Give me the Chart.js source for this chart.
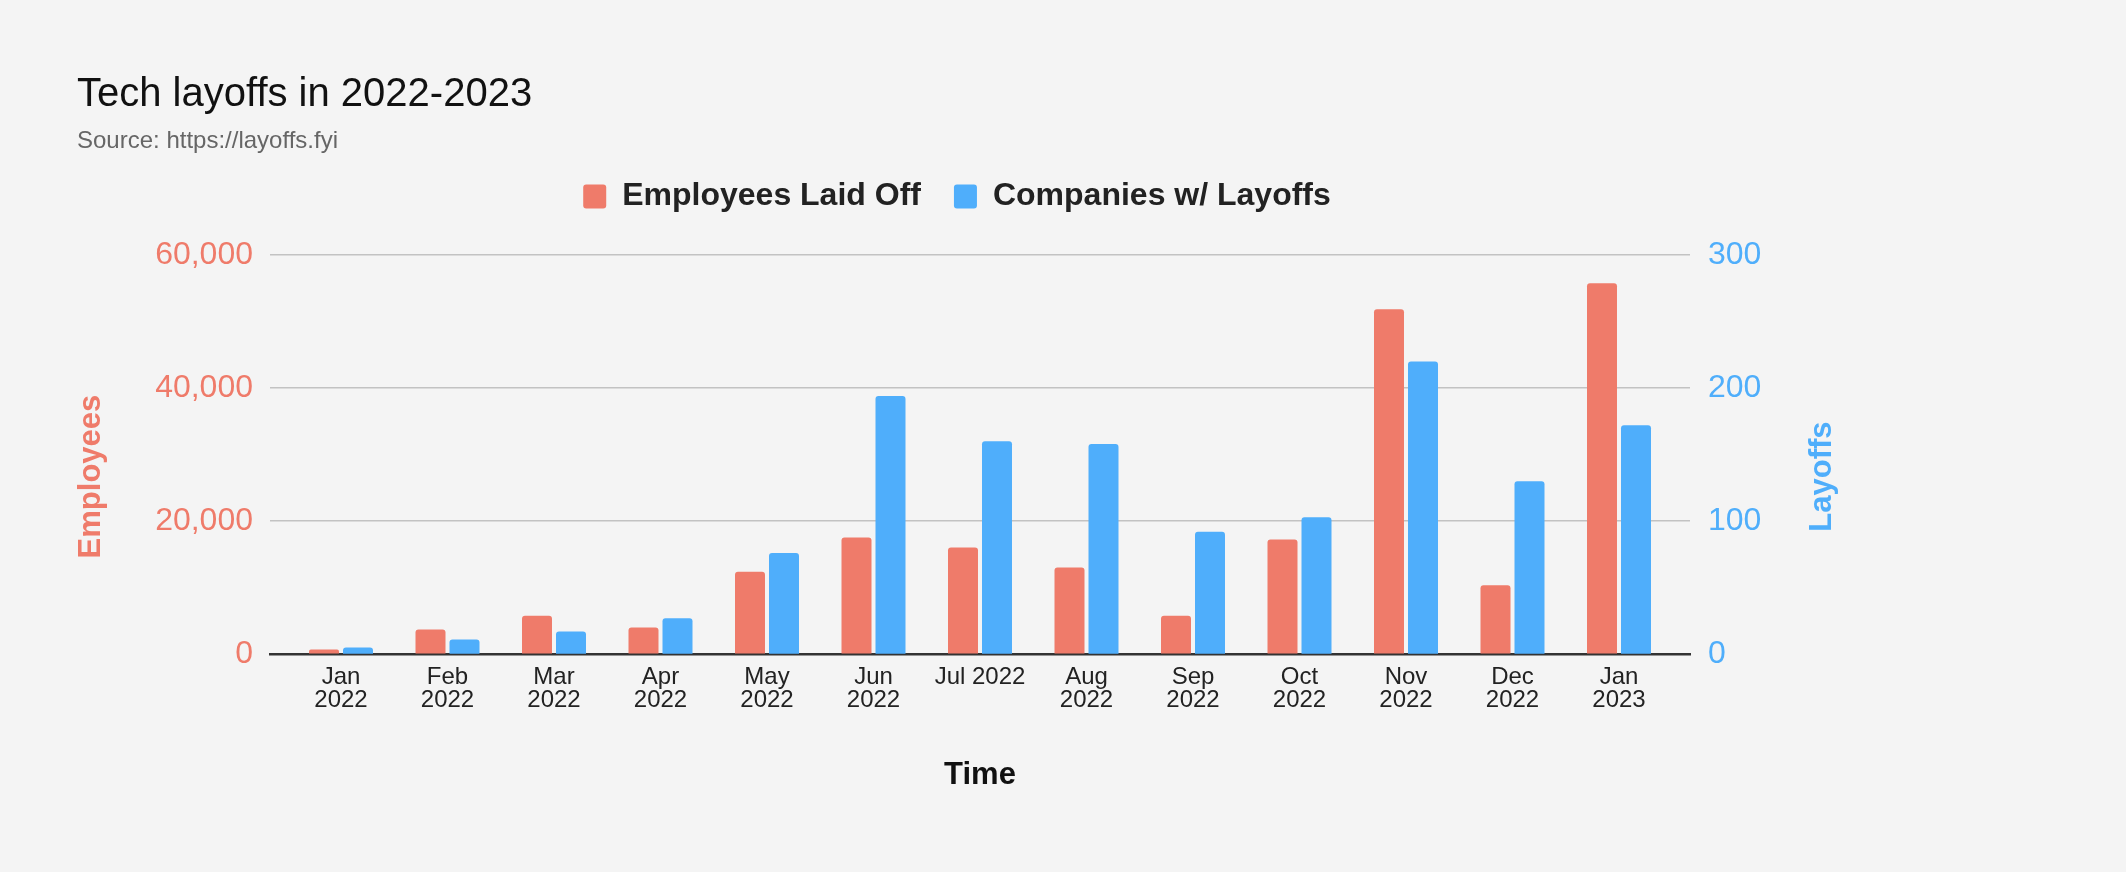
<!DOCTYPE html>
<html>
<head>
<meta charset="utf-8">
<title>Tech layoffs in 2022-2023</title>
<script src="https://cdn.jsdelivr.net/npm/chart.js@4.4.1/dist/chart.umd.min.js"></script>
<style>
  html, body { margin: 0; padding: 0; background: #f4f4f4; }
  #wrap { width: 2126px; height: 872px; }
</style>
</head>
<body>
<div id="wrap"><canvas id="layoffChart" width="2126" height="872"></canvas></div>
<script>
// months on the x axis (two-line labels, Jul is on one line like the source)
const months = [
  ['Jan', '2022'], ['Feb', '2022'], ['Mar', '2022'], ['Apr', '2022'],
  ['May', '2022'], ['Jun', '2022'], 'Jul 2022', ['Aug', '2022'],
  ['Sep', '2022'], ['Oct', '2022'], ['Nov', '2022'], ['Dec', '2022'],
  ['Jan', '2023']
];
const employeesLaidOff = [700, 3700, 5800, 4000, 12400, 17550, 16050, 13050, 5800, 17250, 51850, 10350, 55750];
const companiesWithLayoffs = [5, 11, 17, 27, 76, 194, 160, 158, 92, 103, 220, 130, 172];

const employeeTicks = [0, 20000, 40000, 60000];
const layoffTicks = [0, 100, 200, 300];

const RED = '#ef7b6a';
const BLUE = '#4faefb';
const FONT = "'Liberation Sans', Arial, Helvetica, sans-serif";

Chart.defaults.font.family = FONT;

// push the plot area down a bit below the legend
const legendGap = {
  id: 'legendGap',
  beforeInit(chart) {
    const fit = chart.legend.fit;
    chart.legend.fit = function () {
      fit.call(this);
      this.height += 32.5;
    };
  }
};

// both y axis titles read bottom to top, so draw them here
const axisTitles = {
  id: 'axisTitles',
  afterDraw(chart) {
    const { ctx, chartArea, scales } = chart;
    const midY = (chartArea.top + chartArea.bottom) / 2 + 22;
    ctx.save();
    ctx.font = 'bold 31px ' + FONT;
    ctx.textAlign = 'center';
    ctx.textBaseline = 'alphabetic';
    [[scales.y.left + 23, 'Employees', RED], [scales.y1.left + 141, 'Layoffs', BLUE]].forEach(([x, text, color]) => {
      ctx.save();
      ctx.translate(x, midY);
      ctx.rotate(-Math.PI / 2);
      ctx.fillStyle = color;
      ctx.fillText(text, 0, 0);
      ctx.restore();
    });
    ctx.restore();
  }
};

const ctx = document.getElementById('layoffChart').getContext('2d');

new Chart(ctx, {
  type: 'bar',
  data: {
    datasets: [{
      label: 'Employees Laid Off',
      data: employeesLaidOff.map((v, i) => ({ x: i, y: v })),
      backgroundColor: RED,
      yAxisID: 'y'
    }, {
      label: 'Companies w/ Layoffs',
      data: companiesWithLayoffs.map((v, i) => ({ x: i, y: v })),
      backgroundColor: BLUE,
      yAxisID: 'y1'
    }]
  },
  options: {
    responsive: false,
    animation: false,
    devicePixelRatio: 1,
    datasets: {
      bar: {
        categoryPercentage: 0.6385,
        barPercentage: 0.882,
        borderRadius: 3,
        borderSkipped: 'start',
        borderWidth: 0
      }
    },
    layout: { padding: { left: 77, right: 289, top: 0, bottom: 78 } },
    plugins: {
      title: {
        display: true,
        text: 'Tech layoffs in 2022-2023',
        align: 'start',
        color: '#111',
        font: { size: 40, weight: 'normal', lineHeight: 1.2 },
        padding: { top: 71, bottom: 0 }
      },
      subtitle: {
        display: true,
        text: 'Source: https://layoffs.fyi',
        align: 'start',
        color: '#666',
        font: { size: 24, weight: 'normal', lineHeight: 0.4 },
        padding: { top: 17.8, bottom: 1 }
      },
      legend: {
        position: 'top',
        labels: {
          boxWidth: 23,
          boxHeight: 24,
          padding: 33,
          color: '#222',
          font: { size: 32, weight: 'bold' },
          useBorderRadius: true,
          borderRadius: 3
        }
      },
      tooltip: { enabled: false }
    },
    scales: {
      x: {
        type: 'linear',
        min: -2 / 3,
        max: months.length - 1 + 2 / 3,
        offset: false,
        afterBuildTicks: scale => {
          scale.ticks = months.map((m, i) => ({ value: i }));
        },
        ticks: {
          callback: value => months[value],
          autoSkip: false,
          maxRotation: 0,
          padding: 11,
          color: '#222',
          font: { size: 24, lineHeight: 0.97 }
        },
        grid: { display: false, drawTicks: false },
        border: { display: true, color: '#333', width: 2.5 },
        title: {
          display: true,
          text: 'Time',
          color: '#111',
          font: { size: 31, weight: 'bold', lineHeight: 1.2 },
          padding: { top: 34, bottom: 0 }
        }
      },
      y: {
        position: 'left',
        min: employeeTicks[0],
        max: employeeTicks[employeeTicks.length - 1],
        afterBuildTicks: scale => {
          scale.ticks = employeeTicks.map(v => ({ value: v }));
        },
        ticks: {
          padding: 17,
          color: RED,
          font: { size: 32 },
          callback: v => v.toLocaleString('en-US')
        },
        grid: { color: '#c2c2c2', lineWidth: 1.5, drawTicks: false },
        border: { display: false },
        afterFit: scale => { scale.width = 193; }
      },
      y1: {
        position: 'right',
        min: layoffTicks[0],
        max: layoffTicks[layoffTicks.length - 1],
        afterBuildTicks: scale => {
          scale.ticks = layoffTicks.map(v => ({ value: v }));
        },
        ticks: {
          padding: 18,
          color: BLUE,
          font: { size: 32 }
        },
        grid: { drawOnChartArea: false, drawTicks: false },
        border: { display: false },
        afterFit: scale => { scale.width = 147; }
      }
    }
  },
  plugins: [legendGap, axisTitles]
});
</script>
</body>
</html>
